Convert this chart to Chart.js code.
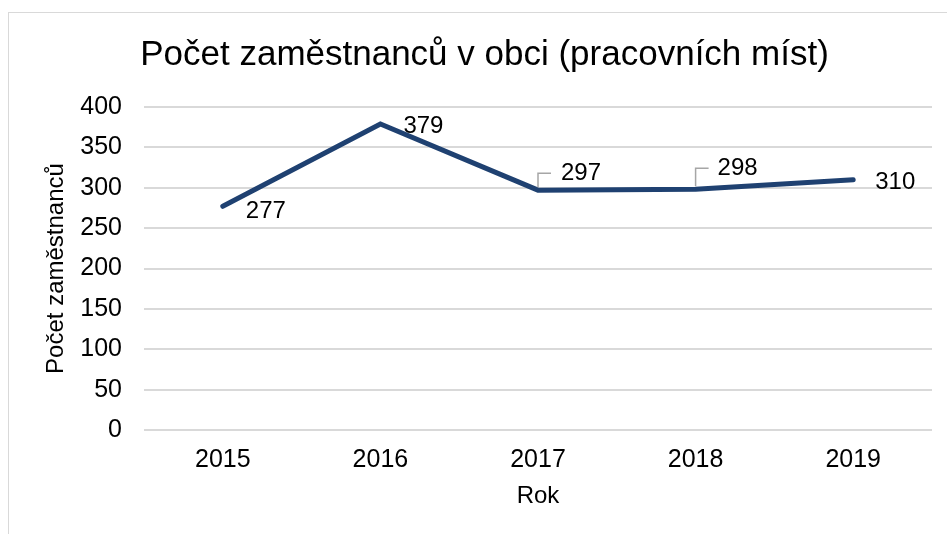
<!DOCTYPE html>
<html>
<head>
<meta charset="utf-8">
<script src="https://cdn.jsdelivr.net/npm/chart.js@4"></script>
<style>
  html, body { margin: 0; padding: 0; background: #fff; overflow: hidden; }
  .frame {
    position: absolute; left: 8px; top: 12px;
    border-left: 1px solid #d9d9d9; border-top: 1px solid #d9d9d9;
    width: 960px; height: 540px;
  }
  canvas { display: block; }
</style>
</head>
<body>
<div class="frame">
  <canvas id="chart" width="952" height="521"></canvas>
</div>
<script>
// data
const years = ["2015", "2016", "2017", "2018", "2019"];
const employees = [277, 379, 297, 298, 310];
const yTicks = [0, 50, 100, 150, 200, 250, 300, 350, 400];

const lineColor = "#1f4171";
const fontFamily = "'Liberation Sans', Arial, sans-serif";

// where each value label sits relative to its point, and whether it gets a leader line
const labelPlacement = [
  { dx: 23, dy: 5, leader: false },
  { dx: 23, dy: 2, leader: false },
  { dx: 23, dy: -17, leader: true },
  { dx: 22, dy: -21, leader: true },
  { dx: 22, dy: 3, leader: false },
];

const valueLabels = {
  id: "valueLabels",
  afterDatasetsDraw(chart) {
    const ctx = chart.ctx;
    const meta = chart.getDatasetMeta(0);
    ctx.save();
    ctx.font = "24px " + fontFamily;
    ctx.fillStyle = "#000";
    ctx.textAlign = "left";
    ctx.textBaseline = "middle";
    meta.data.forEach((pt, i) => {
      const p = labelPlacement[i];
      const ly = pt.y + p.dy;
      if (p.leader) {
        ctx.strokeStyle = "#a6a6a6";
        ctx.lineWidth = 1.5;
        ctx.beginPath();
        ctx.moveTo(pt.x, pt.y - 3);
        ctx.lineTo(pt.x, ly);
        ctx.lineTo(pt.x + 13, ly);
        ctx.stroke();
      }
      ctx.fillText(String(employees[i]), pt.x + p.dx, ly);
    });
    ctx.restore();
  },
};

new Chart(document.getElementById("chart"), {
  type: "line",
  data: {
    labels: years,
    datasets: [
      {
        data: employees,
        borderColor: lineColor,
        borderWidth: 5,
        borderCapStyle: "round",
        pointRadius: 0,
        tension: 0,
      },
    ],
  },
  options: {
    responsive: false,
    animation: false,
    layout: { padding: { left: 28, right: 29, top: 0, bottom: 0 } },
    plugins: {
      legend: { display: false },
      tooltip: { enabled: false },
      title: {
        display: true,
        text: "Počet zaměstnanců v obci (pracovních míst)",
        color: "#000",
        font: { family: fontFamily, size: 35, weight: "normal" },
        padding: { top: 21, bottom: 31 },
      },
    },
    scales: {
      x: {
        offset: true,
        grid: { display: false, drawTicks: false },
        border: { display: false },
        ticks: {
          color: "#000",
          padding: 15,
          font: { family: fontFamily, size: 25 },
        },
        title: {
          display: true,
          text: "Rok",
          color: "#000",
          font: { family: fontFamily, size: 24 },
          padding: { top: 0, bottom: 23 },
        },
        afterFit(scale) { scale.height = 104; },
      },
      y: {
        min: 0,
        max: 400,
        afterBuildTicks(scale) { scale.ticks = yTicks.map(v => ({ value: v })); },
        grid: { color: "#d9d9d9", lineWidth: 2, drawTicks: false },
        border: { display: false },
        ticks: {
          color: "#000",
          padding: 22,
          font: { family: fontFamily, size: 25 },
        },
        title: {
          display: true,
          text: "Počet zaměstnanců",
          color: "#000",
          font: { family: fontFamily, size: 24 },
          padding: { top: 5, bottom: 0 },
        },
        afterFit(scale) { scale.width = 107; },
      },
    },
  },
  plugins: [valueLabels],
});
</script>
</body>
</html>
